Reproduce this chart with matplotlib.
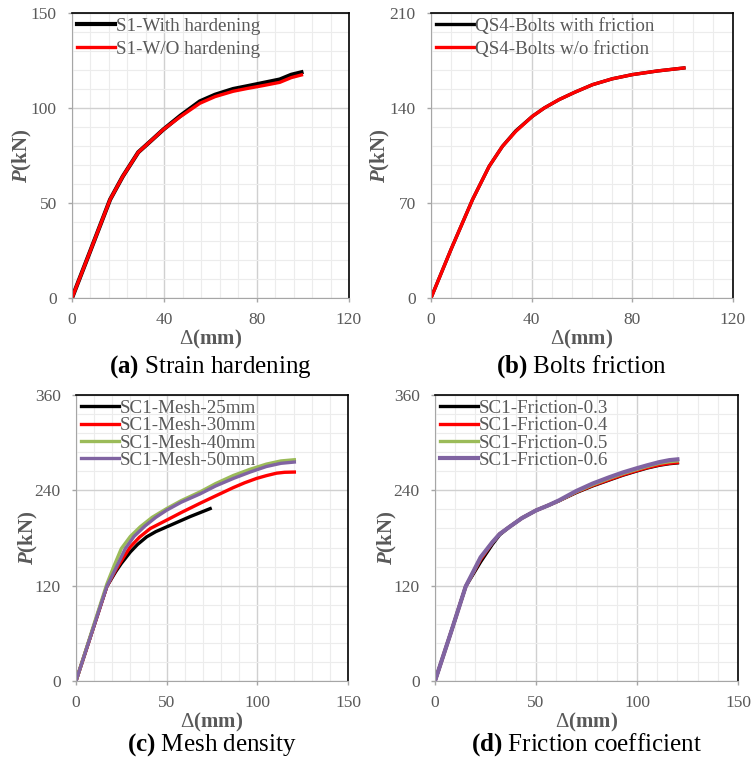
import numpy as np
import matplotlib.pyplot as plt
from matplotlib.ticker import MultipleLocator

plt.rcParams['font.family'] = ['Liberation Serif', 'DejaVu Serif']
plt.rcParams['mathtext.fontset'] = 'custom'
plt.rcParams['mathtext.rm'] = 'Liberation Serif'
plt.rcParams['mathtext.bf'] = 'Liberation Serif:bold'
plt.rcParams['mathtext.it'] = 'Liberation Serif:italic'
plt.rcParams['mathtext.bfit'] = 'Liberation Serif:bold:italic'

######################################## Data ###############################################
# (a) strain hardening
a_x_with = [0, 8, 16.5, 22, 28.7, 34, 39.5, 47, 55.4, 62, 69.8, 76, 82.8, 90, 95, 99.4]
a_y_with = [0, 25, 51.8, 64, 76.7, 82.5, 88.6, 96, 103.5, 107, 110, 111.5, 113.2, 115, 117.5, 118.8]
a_x_wo = [0, 8, 16.5, 22, 28.7, 34, 39.5, 47, 55.4, 62, 69.8, 76, 82.8, 90, 95, 99.4]
a_y_wo = [0, 25, 51.8, 64, 76.7, 82.5, 88.6, 95.5, 102.5, 106, 108.8, 110.3, 111.8, 113.5, 116, 117.4]

# (b) bolts friction
b_x = [0, 8, 16.5, 23.1, 28.4, 33.7, 40.3, 45, 50.9, 57, 64.2, 72, 80, 90, 100.5]
b_y_with = [0, 36, 72.5, 97, 111.8, 123.2, 133.9, 140, 146.2, 151.5, 157.2, 161.5, 164.6, 167.3, 169.5]
b_y_wo = [0, 36, 72.5, 97, 111.8, 122.8, 133.9, 140, 146.2, 151.5, 157.2, 161.5, 164.6, 167.3, 169.5]

# (c) mesh density
c_x25 = [0, 10, 17, 22, 25, 30, 34, 39, 44, 50, 63, 74]
c_y25 = [0, 70, 119, 138, 148, 162.5, 172, 181.5, 188, 194, 207, 217]
c_x30 = [0, 10, 17, 22, 26, 30, 35, 41, 50, 58, 68.4, 77, 86.8, 93, 99.6, 105, 110.6, 115, 120.4]
c_y30 = [0, 70, 119, 140, 155, 169, 181, 192, 202.5, 212, 223.7, 233, 243.5, 249.5, 255, 258.5, 261.6, 262.7, 263]
c_x40 = [0, 10, 17, 21, 25, 30, 35.4, 42, 50, 58, 68.4, 77, 86.8, 96, 105, 113, 120.4]
c_y40 = [0, 72, 122, 145, 166.7, 182, 194, 206, 217, 227, 238, 248.5, 258.7, 266.5, 273, 277, 278.5]
c_x50 = [0, 10, 17, 22, 27.2, 32, 38, 44, 50, 58, 68.4, 77, 86.8, 96, 105, 113, 120.4]
c_y50 = [0, 70, 119, 142, 166.7, 182, 195, 206, 215, 225, 235.5, 245.5, 255, 263, 270, 274, 275.6]

# (d) friction coefficient
d_x = [0, 8, 15.2, 22.6, 28.4, 32, 36.7, 43, 50, 56, 61.5, 69.8, 78, 86.3, 93, 99.5, 105, 111, 116, 120]
d_y03 = [0, 62, 119, 150, 172, 184, 193.7, 205, 214.7, 221, 227, 237, 245.5, 253, 259, 264, 268, 271.5, 273.5, 274.5]
d_y04 = [0, 62, 119, 153, 174, 185, 193.7, 205, 214.7, 221, 227, 237.5, 246, 253.5, 259.5, 264.5, 268.5, 272, 274, 275]
d_y05 = [0, 62, 119, 155, 174.7, 185, 193.7, 205, 214.7, 221, 227, 238, 247, 255, 261, 266, 270, 274, 276, 277]
d_y06 = [0, 62, 119, 155.8, 174.7, 185, 193.7, 205, 214.7, 221, 227.5, 239, 248.5, 256.5, 262.5, 267.5, 271.5, 275.5, 278, 279]
#################################### End of data ############################################

GRAY = '#595959'
W, H = 753, 762

fig = plt.figure(figsize=(W / 100, H / 100), dpi=100)


def px_axes(left, top, right, bottom):
    return fig.add_axes([left / W, 1 - bottom / H, (right - left) / W, (bottom - top) / H])


def style_axes(ax, xmax, xmaj, xmin, ymax, ymaj, ymin, caption, leg_space, cap_y, ylpad):
    ax.set_xlim(0, xmax)
    ax.set_ylim(0, ymax)
    ax.xaxis.set_major_locator(MultipleLocator(xmaj))
    ax.xaxis.set_minor_locator(MultipleLocator(xmin))
    ax.yaxis.set_major_locator(MultipleLocator(ymaj))
    ax.yaxis.set_minor_locator(MultipleLocator(ymin))
    ax.grid(which='major', color='#d0d0d0', linewidth=1.0)
    ax.grid(which='minor', color='#ececec', linewidth=0.8)
    ax.set_axisbelow(True)
    ax.tick_params(which='minor', length=0)
    ax.tick_params(which='major', length=3, width=1, color='#a6a6a6',
                   labelsize=12.5, labelcolor=GRAY)
    ax.tick_params(axis='x', pad=7)
    ax.tick_params(axis='y', pad=8)
    for s in ['left', 'bottom']:
        ax.spines[s].set_color('#a6a6a6')
    for s in ['top', 'right']:
        ax.spines[s].set_color('black')
        ax.spines[s].set_linewidth(1.2)
    ax.set_xlabel(r'$\Delta$(mm)', fontsize=15, fontweight='bold', color=GRAY, labelpad=0)
    ax.set_ylabel(r'$\mathbfit{P}$(kN)', fontsize=15, fontweight='bold', color=GRAY, labelpad=ylpad)
    ax.legend(loc='upper left', frameon=False, fontsize=13.7, handlelength=2.0,
              borderaxespad=0.0, borderpad=0.25, labelspacing=leg_space, handletextpad=0.05,
              labelcolor=GRAY)
    ax.text(0.5, cap_y, caption, transform=ax.transAxes, ha='center', va='center', fontsize=18)


lw = 2.4

ax = px_axes(72, 13, 349, 298)
ax.plot(a_x_with, a_y_with, color='black', lw=lw + 0.6, label='S1-With hardening')
ax.plot(a_x_wo, a_y_wo, color='#ff0000', lw=lw, label='S1-W/O hardening')
style_axes(ax, 120, 40, 8, 150, 50, 10, r'$\mathbf{(a)}$ Strain hardening', 0.3, -0.24, -2)

ax = px_axes(431, 13, 733, 298)
ax.plot(b_x, b_y_with, color='black', lw=lw, label='QS4-Bolts with friction')
ax.plot(b_x, b_y_wo, color='#ff0000', lw=lw, label='QS4-Bolts w/o friction')
style_axes(ax, 120, 40, 8, 210, 70, 14, r'$\mathbf{(b)}$ Bolts friction', 0.3, -0.24, -2)

ax = px_axes(76, 395, 348, 681)
ax.plot(c_x25, c_y25, color='black', lw=lw, label='SC1-Mesh-25mm')
ax.plot(c_x30, c_y30, color='#ff0000', lw=lw, label='SC1-Mesh-30mm')
ax.plot(c_x40, c_y40, color='#9bbb59', lw=lw, label='SC1-Mesh-40mm')
ax.plot(c_x50, c_y50, color='#8064a2', lw=lw, label='SC1-Mesh-50mm')
style_axes(ax, 150, 50, 10, 360, 120, 24, r'$\mathbf{(c)}$ Mesh density', 0.0, -0.224, -4)

ax = px_axes(435, 395, 738, 681)
ax.plot(d_x, d_y03, color='black', lw=lw, label='SC1-Friction-0.3')
ax.plot(d_x, d_y04, color='#ff0000', lw=lw, label='SC1-Friction-0.4')
ax.plot(d_x, d_y05, color='#9bbb59', lw=lw, label='SC1-Friction-0.5')
ax.plot(d_x, d_y06, color='#8064a2', lw=lw + 0.6, label='SC1-Friction-0.6')
style_axes(ax, 150, 50, 10, 360, 120, 24, r'$\mathbf{(d)}$ Friction coefficient', 0.0, -0.224, -4)

fig.savefig('out.png', dpi=100)
